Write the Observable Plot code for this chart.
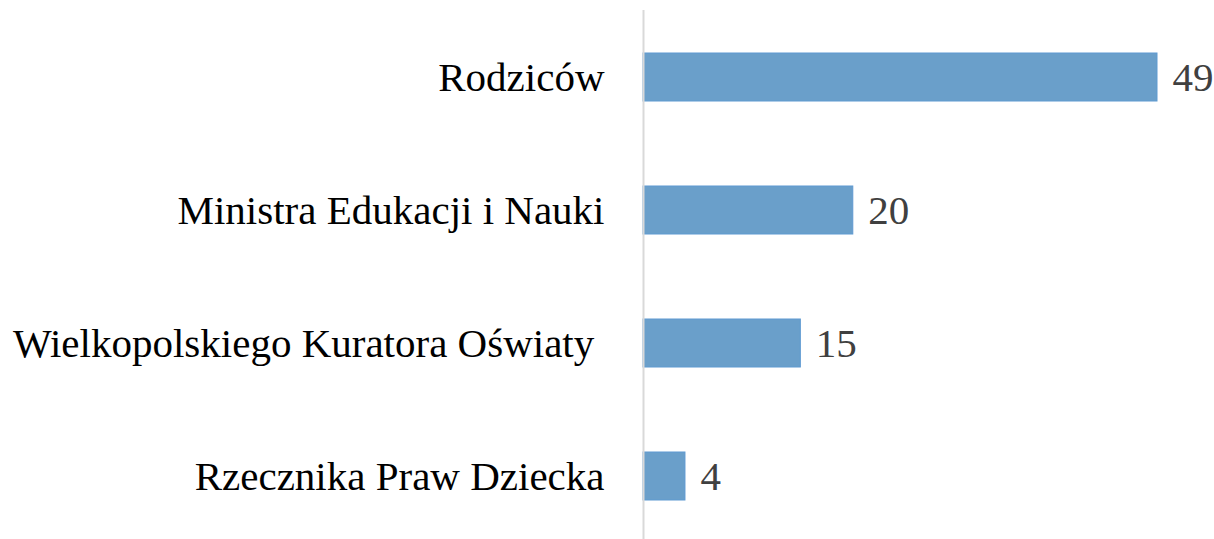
<!DOCTYPE html>
<html><head><meta charset="utf-8">
<script src="https://cdn.jsdelivr.net/npm/d3@7"></script>
<script src="https://cdn.jsdelivr.net/npm/@observablehq/plot@0.6"></script>
<style>body{margin:0;background:#fff}</style>
</head><body><div id="chart"></div>
<script>
const categories = ["Rodziców", "Ministra Edukacji i Nauki", "Wielkopolskiego Kuratora Oświaty", "Rzecznika Praw Dziecka"];
const values = [49, 20, 15, 4];
const tickLabels = ["Rodziców", "Ministra Edukacji i Nauki", "Wielkopolskiego Kuratora Oświaty\u00a0", "Rzecznika Praw Dziecka"];
const data = categories.map((c, i) => ({category: c, value: values[i]}));

const chart = Plot.plot({
  width: 1214,
  height: 539,
  marginLeft: 643,
  marginRight: 57,
  marginTop: 10,
  marginBottom: 0,
  style: {fontFamily: "'Liberation Serif', serif", background: "#fff"},
  x: {domain: [0, 49], axis: null},
  y: {domain: categories, range: [10, 543], paddingInner: 0.64, paddingOuter: 0.32, label: null},
  marks: [
    Plot.axisY({tickSize: 0, tickPadding: 39, fontSize: 41, fill: "#000", label: null,
      tickFormat: d => tickLabels[categories.indexOf(d)]}),
    Plot.barX(data, {y: "category", x: "value", fill: "#6A9FCA", stroke: "#5F9AD1", strokeWidth: 1}),
    Plot.ruleX([0], {stroke: "#d9d9d9", strokeWidth: 2}),
    Plot.text(data, {y: "category", x: "value", text: d => String(d.value), dx: 15, textAnchor: "start", fontSize: 41, fill: "#404040"})
  ]
});
document.getElementById("chart").appendChild(chart);
</script>
</body></html>
